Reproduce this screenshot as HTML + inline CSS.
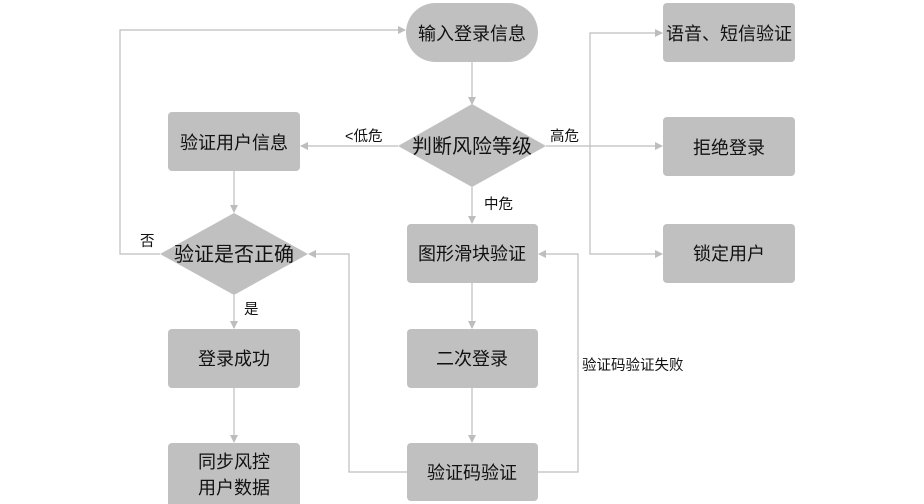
<!DOCTYPE html>
<html><head><meta charset="utf-8"><style>
html,body{margin:0;padding:0;background:#fff;}
svg{display:block;}
text{font-family:"Liberation Sans","Noto Sans CJK SC",sans-serif;fill:#111;}
</style></head><body>
<svg width="924" height="504" viewBox="0 0 924 504" xmlns="http://www.w3.org/2000/svg">
<defs>
<marker id="a" markerWidth="8" markerHeight="8" refX="7" refY="4" orient="auto" markerUnits="userSpaceOnUse">
<path d="M0,0 L8,4 L0,8 Z" fill="#bdbdbd"/></marker>
</defs>
<g stroke="#bdbdbd" stroke-width="1.2" fill="none">
<line x1="472" y1="62" x2="472" y2="104" marker-end="url(#a)"/>
<line x1="398" y1="146" x2="301" y2="146" marker-end="url(#a)"/>
<line x1="472" y1="187" x2="472" y2="223" marker-end="url(#a)"/>
<line x1="546" y1="146" x2="662" y2="146" marker-end="url(#a)"/>
<polyline points="590,146 590,33 662,33" marker-end="url(#a)"/>
<polyline points="590,146 590,254 662,254" marker-end="url(#a)"/>
<line x1="234" y1="171" x2="234" y2="212" marker-end="url(#a)"/>
<polyline points="160,254 120,254 120,30 405,30" marker-end="url(#a)"/>
<line x1="234" y1="295" x2="234" y2="328" marker-end="url(#a)"/>
<line x1="234" y1="388" x2="234" y2="442" marker-end="url(#a)"/>
<line x1="472" y1="283" x2="472" y2="328" marker-end="url(#a)"/>
<line x1="472" y1="388" x2="472" y2="442" marker-end="url(#a)"/>
<polyline points="407,472 349,472 349,254 309,254" marker-end="url(#a)"/>
<polyline points="538,472 578,472 578,254 539,254" marker-end="url(#a)"/>
</g>
<g fill="#c0c0c0">
<rect x="406" y="3" width="132" height="59" rx="29.5"/>
<polygon points="472,104 546,146 472,187 398,146"/>
<rect x="168" y="112" width="132" height="59" rx="4"/>
<polygon points="234,213 308,254 234,295 160,254"/>
<rect x="407" y="224" width="131" height="59" rx="4"/>
<rect x="168" y="329" width="132" height="59" rx="4"/>
<rect x="407" y="329" width="131" height="59" rx="4"/>
<rect x="168" y="443" width="132" height="65" rx="4"/>
<rect x="407" y="443" width="131" height="58" rx="4"/>
<rect x="663" y="3" width="132" height="59" rx="4"/>
<rect x="663" y="117" width="132" height="59" rx="4"/>
<rect x="663" y="224" width="132" height="59" rx="4"/>
</g>
<g font-size="18" text-anchor="middle">
<text x="472" y="40">输入登录信息</text>
<text x="472" y="153" font-size="20">判断风险等级</text>
<text x="234" y="149">验证用户信息</text>
<text x="234" y="261" font-size="20">验证是否正确</text>
<text x="472" y="260">图形滑块验证</text>
<text x="234" y="365">登录成功</text>
<text x="472" y="365">二次登录</text>
<text x="234" y="468">同步风控</text>
<text x="234" y="494">用户数据</text>
<text x="472" y="479">验证码验证</text>
<text x="729" y="40">语音、短信验证</text>
<text x="729" y="154">拒绝登录</text>
<text x="729" y="260">锁定用户</text>
</g>
<g font-size="14.5">
<text x="345" y="141">&lt;低危</text>
<text x="550" y="141">高危</text>
<text x="484" y="209">中危</text>
<text x="140" y="246">否</text>
<text x="244" y="314">是</text>
<text x="582" y="370">验证码验证失败</text>
</g>
</svg>
</body></html>
